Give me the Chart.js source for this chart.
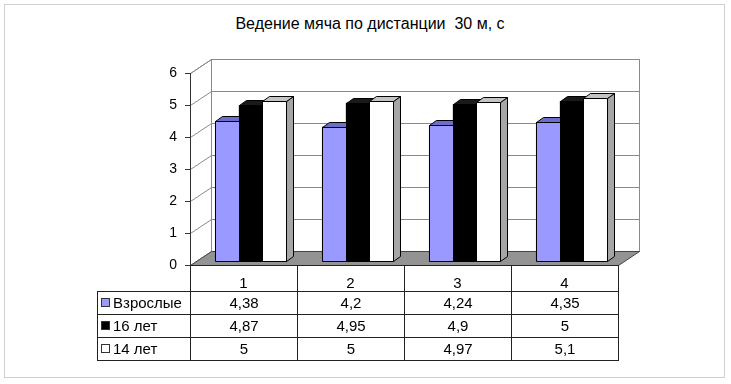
<!DOCTYPE html>
<html>
<head>
<meta charset="utf-8">
<script src="https://cdn.jsdelivr.net/npm/chart.js@4.4.1/dist/chart.umd.min.js"></script>
<style>
body { margin: 0; background: #fff; font-family: "Liberation Sans", Arial, sans-serif; }
#wrap { position: relative; width: 731px; height: 384px; }
#frame { position: absolute; left: 4px; top: 4px; width: 719px; height: 372px; border: 1px solid #d0d0d0; }
#title { position: absolute; left: 0; width: 740px; top: 15px; text-align: center; font-size: 16px; white-space: pre; }
canvas { position: absolute; left: 0; top: 0; }
#tbl { position: absolute; left: 97px; top: 291px; border-collapse: collapse; table-layout: fixed; font-size: 15px; }
#tbl td { border: 1px solid #222; height: 22px; padding: 0; text-align: center; line-height: 20px; }
#tbl td.name { text-align: left; padding-left: 3px; white-space: nowrap; }
.mark { display: inline-block; width: 7px; height: 7px; border: 1px solid #333; margin-right: 3px; vertical-align: 1px; }
</style>
</head>
<body>
<div id="wrap">
  <div id="frame"></div>
  <div id="title">Ведение мяча по дистанции  30 м, с</div>
  <canvas id="chart" width="731" height="384"></canvas>
  <table id="tbl"></table>
</div>
<script>
const categories = ["1", "2", "3", "4"];
const seriesNames = ["Взрослые", "16 лет", "14 лет"];
const adults = [4.38, 4.2, 4.24, 4.35];
const age16 = [4.87, 4.95, 4.9, 5];
const age14 = [5, 5, 4.97, 5.1];
const yTicks = [0, 1, 2, 3, 4, 5, 6];

// 3d look: wall depth, bar offset into the depth, bar box depth
const DX = 21, DY = -14;
const SX = 7, SY = -4;
const BX = 7, BY = -5;

const fronts = ["#9999ff", "#000000", "#ffffff"];
const tops = ["#6d6dcc", "#1a1a1a", "#c4c4c4"];
const sides = ["#5a5ab0", "#000000", "#a6a6a6"];

function poly(ctx, pts, fill) {
    ctx.beginPath();
    ctx.moveTo(pts[0][0], pts[0][1]);
    for (let i = 1; i < pts.length; i++) ctx.lineTo(pts[i][0], pts[i][1]);
    ctx.closePath();
    ctx.fillStyle = fill;
    ctx.fill();
    ctx.stroke();
}

const walls = {
    id: "walls",
    beforeDraw(chart) {
        const ctx = chart.ctx;
        const a = chart.chartArea;
        const y = chart.scales.y;
        const L = a.left + 0.5, R = a.right + 0.5;
        const T = Math.round(y.getPixelForValue(yTicks[yTicks.length - 1])) + 0.5;
        const B = Math.round(y.getPixelForValue(0)) + 0.5;
        ctx.save();
        ctx.lineWidth = 1;
        ctx.strokeStyle = "#8a8a8a";
        ctx.fillStyle = "#fff";
        ctx.beginPath();
        ctx.rect(L + DX, T + DY, R - L, B - T);
        ctx.fill();
        ctx.stroke();
        yTicks.forEach(v => {
            const py = Math.round(y.getPixelForValue(v)) + 0.5;
            ctx.beginPath();
            ctx.moveTo(L, py);
            ctx.lineTo(L + DX, py + DY);
            ctx.lineTo(R + DX, py + DY);
            ctx.stroke();
        });
        ctx.beginPath();
        ctx.moveTo(L, T);
        ctx.lineTo(L + DX, T + DY);
        ctx.stroke();
        // floor
        ctx.strokeStyle = "#444";
        poly(ctx, [[L, B], [R, B], [R + DX, B + DY], [L + DX, B + DY]], "#939393");
        ctx.restore();
    },
    afterDraw(chart) {
        // column lines of the header row of the data table
        const ctx = chart.ctx;
        const x = chart.scales.x;
        const step = (x.right - x.left) / categories.length;
        ctx.save();
        ctx.strokeStyle = "#222";
        ctx.lineWidth = 1;
        for (let i = 0; i <= categories.length; i++) {
            const px = Math.round(x.left + i * step) + 0.5;
            ctx.beginPath();
            ctx.moveTo(px, x.top);
            ctx.lineTo(px, x.bottom);
            ctx.stroke();
        }
        ctx.restore();
    }
};

const bars3d = {
    id: "bars3d",
    beforeDatasetsDraw(chart) {
        chart.ctx.save();
        chart.ctx.translate(SX, SY);
    },
    afterDatasetsDraw(chart) {
        const ctx = chart.ctx;
        ctx.lineWidth = 1;
        ctx.strokeStyle = "#000";
        categories.forEach((c, j) => {
            chart.data.datasets.forEach((ds, i) => {
                const bar = chart.getDatasetMeta(i).data[j];
                const x0 = Math.round(bar.x - bar.width / 2) + 0.5;
                const x1 = Math.round(bar.x + bar.width / 2) + 0.5;
                const yt = Math.round(bar.y) + 0.5;
                const yb = Math.round(bar.base) + 0.5;
                poly(ctx, [[x1, yt], [x1 + BX, yt + BY], [x1 + BX, yb + BY], [x1, yb]], sides[i]);
                poly(ctx, [[x0, yt], [x0 + BX, yt + BY], [x1 + BX, yt + BY], [x1, yt]], tops[i]);
                poly(ctx, [[x0, yt], [x1, yt], [x1, yb], [x0, yb]], fronts[i]);
            });
        });
        ctx.restore();
    }
};

const ctx = document.getElementById("chart").getContext("2d");

const chart = new Chart(ctx, {
    type: "bar",
    data: {
        labels: categories,
        datasets: [
            { label: seriesNames[0], data: adults, backgroundColor: fronts[0], borderColor: "#000", borderWidth: 1 },
            { label: seriesNames[1], data: age16, backgroundColor: fronts[1], borderColor: "#000", borderWidth: 1 },
            { label: seriesNames[2], data: age14, backgroundColor: fronts[2], borderColor: "#000", borderWidth: 1 }
        ]
    },
    options: {
        responsive: false,
        animation: false,
        devicePixelRatio: 1,
        datasets: { bar: { categoryPercentage: 0.667, barPercentage: 1 } },
        layout: { padding: { left: 0, right: 113, top: 73, bottom: 93 } },
        plugins: { legend: { display: false }, title: { display: false }, tooltip: { enabled: false } },
        scales: {
            x: {
                afterFit(s) { s.height = 26; },
                grid: { display: false },
                border: { display: true, color: "#222" },
                ticks: { color: "#000", font: { family: "Liberation Sans", size: 15 }, padding: 2 }
            },
            y: {
                min: 0,
                max: 6,
                afterFit(s) { s.width = 190; },
                grid: { display: true, drawOnChartArea: false, tickLength: 5, color: "#333" },
                border: { display: true, color: "#333" },
                ticks: { stepSize: 1, color: "#000", font: { family: "Liberation Sans", size: 14 }, padding: 8 }
            }
        }
    },
    plugins: [walls, bars3d]
});

// data table below the chart
const rows = [adults, age16, age14];
const tbl = document.getElementById("tbl");
let html = '<colgroup><col style="width:93px">' + categories.map(() => '<col style="width:107px">').join("") + '</colgroup>';
rows.forEach((vals, i) => {
    html += '<tr><td class="name"><span class="mark" style="background:' + fronts[i] + '"></span>' + seriesNames[i] + '</td>';
    html += vals.map(v => '<td>' + String(v).replace(".", ",") + '</td>').join("");
    html += '</tr>';
});
tbl.innerHTML = html;
</script>
</body>
</html>
